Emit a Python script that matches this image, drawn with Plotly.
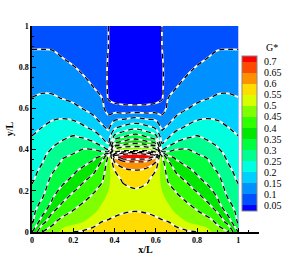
import plotly.graph_objects as go

x_pos = [0,.05,.1,.15,.2,.25,.3,.34,.37,.4,.44,.5,.56,.6,.63,.66,.7,.75,.8,.85,.9,.95,1]
y_pos = [0,.05,.1,.15,.2,.25,.3,.34,.36,.37,.38,.4,.43,.46,.5,.55,.6,.65,.7,.8,.9,1]
g_star = [
[.35,.45,.47,.52,.55,.56,.57,.575,.58,.585,.59,.595,.59,.585,.58,.575,.57,.56,.55,.52,.47,.45,.35],
[.29,.38,.44,.47,.478,.5,.53,.55,.555,.56,.57,.575,.57,.56,.555,.55,.53,.5,.478,.47,.44,.38,.29],
[.285,.33,.395,.43,.453,.475,.49,.52,.53,.54,.545,.55,.545,.54,.53,.52,.49,.475,.453,.43,.395,.33,.285],
[.275,.305,.355,.397,.425,.447,.47,.495,.515,.525,.53,.54,.53,.525,.515,.495,.47,.447,.425,.397,.355,.305,.275],
[.26,.285,.335,.365,.396,.421,.445,.47,.5,.515,.535,.545,.535,.515,.5,.47,.445,.421,.396,.365,.335,.285,.26],
[.245,.273,.315,.34,.362,.395,.419,.445,.49,.525,.555,.568,.555,.525,.49,.445,.419,.395,.362,.34,.315,.273,.245],
[.235,.26,.295,.32,.34,.362,.392,.425,.48,.55,.585,.6,.585,.55,.48,.425,.392,.362,.34,.32,.295,.26,.235],
[.225,.248,.28,.306,.322,.335,.358,.405,.47,.6,.635,.65,.635,.6,.47,.405,.358,.335,.322,.306,.28,.248,.225],
[.222,.242,.275,.299,.312,.325,.342,.37,.46,.64,.72,.72,.72,.64,.46,.37,.342,.325,.312,.299,.275,.242,.222],
[.22,.239,.271,.292,.306,.32,.332,.35,.44,.71,.74,.75,.74,.71,.44,.35,.332,.32,.306,.292,.271,.239,.22],
[.218,.236,.268,.285,.3,.315,.322,.332,.36,.6,.68,.7,.68,.6,.36,.332,.322,.315,.3,.285,.268,.236,.218],
[.213,.23,.255,.272,.288,.303,.3,.275,.25,.46,.5,.5,.5,.46,.25,.275,.3,.303,.288,.272,.255,.23,.213],
[.207,.222,.243,.258,.27,.273,.258,.23,.2,.35,.375,.4,.375,.35,.2,.23,.258,.273,.27,.258,.243,.222,.207],
[.202,.214,.23,.243,.255,.246,.225,.197,.175,.27,.3,.33,.3,.27,.175,.197,.225,.246,.255,.243,.23,.214,.202],
[.19,.203,.215,.222,.227,.21,.194,.165,.145,.2,.225,.25,.225,.2,.145,.165,.194,.21,.227,.222,.215,.203,.19],
[.18,.187,.197,.2,.195,.182,.16,.13,.115,.14,.145,.16,.145,.14,.115,.13,.16,.182,.195,.2,.197,.187,.18],
[.165,.17,.175,.172,.165,.147,.125,.113,.075,.07,.062,.06,.062,.07,.075,.113,.125,.147,.165,.172,.175,.17,.165],
[.151,.156,.155,.148,.137,.128,.108,.1,.045,.03,.03,.03,.03,.03,.045,.1,.108,.128,.137,.148,.155,.156,.151],
[.14,.143,.142,.132,.12,.115,.1,.085,.042,.03,.03,.03,.03,.03,.042,.085,.1,.115,.12,.132,.142,.143,.14],
[.118,.12,.118,.108,.102,.09,.08,.07,.045,.03,.03,.03,.03,.03,.045,.07,.08,.09,.102,.108,.118,.12,.118],
[.097,.097,.096,.09,.08,.073,.066,.065,.05,.03,.03,.03,.03,.03,.05,.065,.066,.073,.08,.09,.096,.097,.097],
[.085,.085,.085,.08,.07,.065,.06,.06,.05,.03,.03,.03,.03,.03,.05,.06,.06,.065,.07,.08,.085,.085,.085],
]
band_colors = ["#0000ff","#0050ff","#0090ff","#00d0ff","#00ffe0","#00ff90","#00ff40","#00e800",
               "#30ff00","#80ff00","#d8ff00","#ffdd00","#ff9000","#ff4800","#ff0000"]
level_ticks = [.05,.1,.15,.2,.25,.3,.35,.4,.45,.5,.55,.6,.65,.7]
level_text = ["0.05","0.1","0.15","0.2","0.25","0.3","0.35","0.4","0.45","0.5","0.55","0.6","0.65","0.7"]
axis_ticks = [0,.2,.4,.6,.8,1]
axis_text = ["<b>0</b>","<b>0.2</b>","<b>0.4</b>","<b>0.6</b>","<b>0.8</b>","<b>1</b>"]
line_groups = [(.05,.45),(.55,.7)]

SERIF = "Liberation Serif"
W, H = 291, 255
L, R, T, B = 31.5, 258.6, 26, 231.7
scale = [[i/14, c] for i, c in enumerate(band_colors)]

fig = go.Figure()
fig.add_trace(go.Contour(
    x=x_pos, y=y_pos, z=g_star, colorscale=scale, autocontour=False,
    contours=dict(start=.05, end=.7, size=.05, coloring="fill", showlines=False),
    line=dict(width=0), hoverinfo="skip",
    colorbar=dict(
        xref="paper", yref="paper", x=(242-L)/(R-L), xanchor="left",
        y=(B-56)/(B-T), yanchor="top", lenmode="fraction", len=155/(B-T), thicknessmode="pixels",
        thickness=15, xpad=0, ypad=0, outlinecolor="#888888", outlinewidth=1,
        tickmode="array", tickvals=level_ticks, ticktext=level_text,
        ticks="outside", ticklen=5, tickcolor="rgba(0,0,0,0)",
        tickfont=dict(family=SERIF, size=10, color="black"), borderwidth=0),
))
for lo, hi in line_groups:
    for col, wid, dash in (("white", 1.8, "solid"), ("black", 1.3, "5px,4px")):
        fig.add_trace(go.Contour(
            x=x_pos, y=y_pos, z=g_star, showscale=False, autocontour=False,
            contours=dict(start=lo, end=hi, size=.05, coloring="none"),
            line=dict(color=col, width=wid, dash=dash), hoverinfo="skip"))

axis = dict(showgrid=False, zeroline=False, showline=True, linecolor="black", linewidth=1.5,
            ticks="inside", ticklen=4, tickwidth=1, tickcolor="black",
            tickfont=dict(family=SERIF, size=8, color="black"),
            tickvals=axis_ticks, ticktext=axis_text,
            minor=dict(ticks="inside", ticklen=2, dtick=.05, tickwidth=1, tickcolor="black"))
fig.update_layout(
    width=W, height=H, paper_bgcolor="white", plot_bgcolor="white", showlegend=False,
    margin=dict(l=L, r=W-R, t=T, b=H-B, autoexpand=False),
    xaxis=dict(axis, range=[0, 1.1],
               title=dict(text="<b>x/L</b>", font=dict(family=SERIF, size=10, color="black"), standoff=2)),
    yaxis=dict(axis, range=[0, 1],
               title=dict(text="<b>y/L</b>", font=dict(family=SERIF, size=10, color="black"), standoff=3)),
    annotations=[dict(text="G*", xref="paper", yref="paper", x=(272-L)/(R-L), y=(B-47)/(B-T),
                      xanchor="center", yanchor="middle", showarrow=False,
                      font=dict(family=SERIF, size=10, color="black"))],
)
fig.write_html("out.html", config=dict(displayModeBar=False),
               post_script="document.body.style.margin='0';document.body.style.overflow='hidden';")
